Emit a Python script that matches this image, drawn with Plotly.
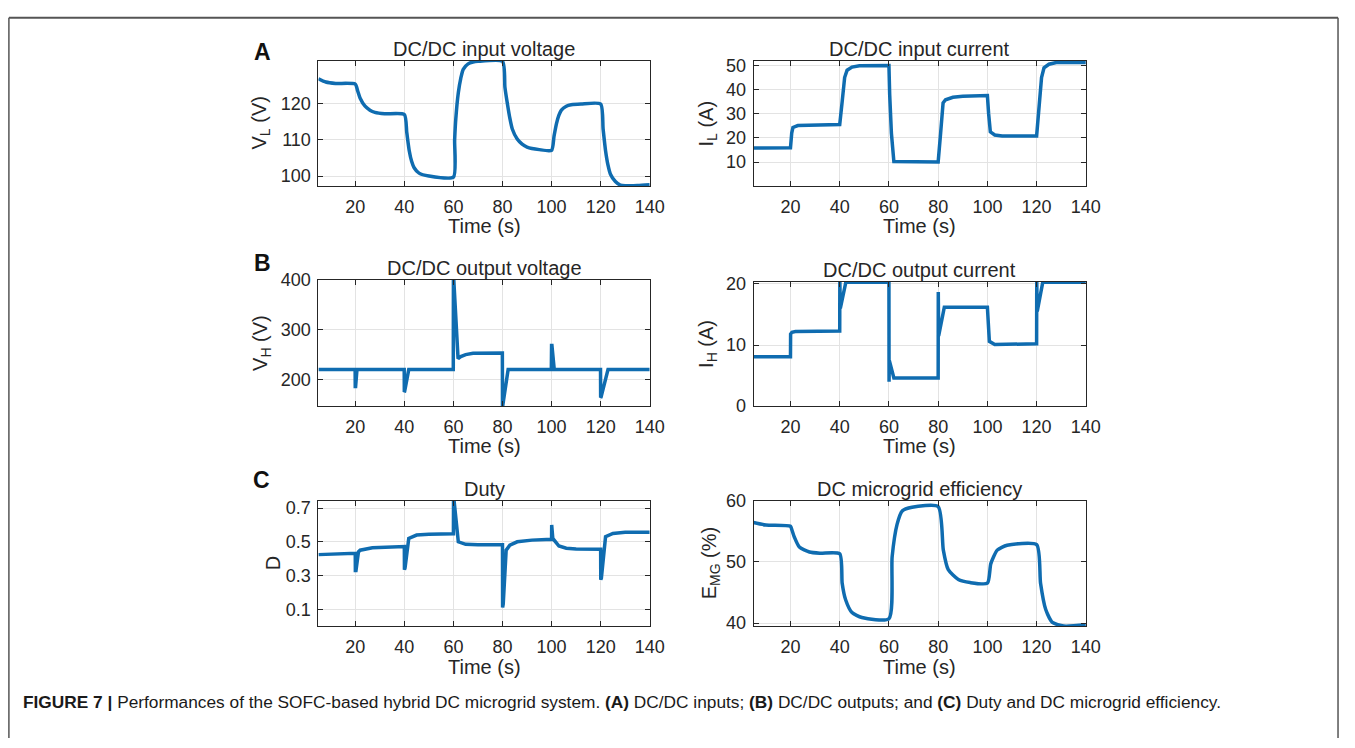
import plotly.graph_objects as go

# ---------------- data ----------------
x_ticks = [20, 40, 60, 80, 100, 120, 140]

t_vl = [5, 8, 12, 20, 21, 22, 24, 26, 28, 32, 40, 41, 42, 43, 44, 46, 50, 60,
        60.5, 61, 62, 63, 64, 66, 68, 70, 80, 81, 82, 83, 84, 86, 88, 90, 95, 100,
        101, 102, 103, 104, 106, 108, 112, 120, 121, 122, 123, 124, 126, 128, 130, 135, 140]
v_l = [126.9, 126.0, 125.6, 125.4, 123.5, 121.5, 119.3, 118.2, 117.6, 117.2, 117.0,
       112.0, 107.0, 104.0, 102.3, 100.8, 100.0, 99.7,
       110.0, 116.0, 123.0, 127.0, 129.5, 131.0, 131.5, 131.7, 131.7,
       124.5, 120.0, 116.0, 113.0, 110.2, 108.8, 108.0, 107.3, 107.1,
       111.0, 114.5, 116.8, 118.2, 119.3, 119.7, 119.9, 119.9,
       113.0, 107.0, 103.0, 100.5, 98.5, 97.5, 97.3, 97.4, 97.6]

t_il = [5, 20, 20.5, 21, 23, 30, 40, 41, 42, 43, 45, 48, 60, 60.3, 61, 62, 80, 81, 82,
        83, 86, 90, 100, 100.5, 101.2, 103, 106, 120, 121, 122, 123, 125, 128, 140]
i_l = [15.8, 15.9, 22.0, 24.3, 25.1, 25.4, 25.5, 35.0, 45.0, 48.0, 49.3, 49.9, 50.0,
       38.0, 22.0, 10.2, 10.0, 22.0, 34.5, 35.8, 36.8, 37.2, 37.5, 30.0, 22.5, 21.2,
       20.8, 20.8, 32.0, 45.0, 49.0, 50.5, 51.2, 51.2]

t_vh = [5, 19.95, 20, 20.15, 20.7, 39.95, 40, 40.1, 41.8, 59.95, 60, 60.15, 61.9, 63,
        65, 68, 79.95, 80, 80.1, 82.3, 99.9, 100, 100.15, 101.1, 119.95, 120, 120.15, 123, 140]
v_h = [220, 220, 186, 186, 220, 220, 175, 176, 220, 220, 400, 400, 242, 246,
       250, 252.5, 253, 147, 148, 220, 220, 268, 268, 220, 220, 164, 165, 220, 220]

t_ih = [5, 20, 20.05, 20.6, 22, 40, 40.05, 40.25, 42.5, 60, 60.05, 60.15, 62, 80,
        80.05, 80.2, 82.5, 100, 100.8, 103, 120, 120.05, 120.25, 122.5, 140]
i_h = [8.1, 8.1, 11.8, 12.1, 12.2, 12.3, 20.5, 16.0, 20.3, 20.3, 4.0, 7.5, 4.6, 4.6,
       18.7, 11.5, 16.2, 16.2, 10.6, 10.1, 10.2, 20.5, 15.5, 20.3, 20.3]

t_d = [5, 12, 20, 20.05, 20.3, 21.3, 22, 27, 40, 40.05, 40.3, 41.8, 45, 50, 60,
       60.05, 60.3, 62, 65, 70, 80, 80.05, 80.3, 81.5, 83, 86, 92, 100,
       100.05, 100.5, 101.5, 103, 106, 110, 120, 120.05, 120.3, 122, 125, 130, 140]
duty = [0.424, 0.43, 0.432, 0.33, 0.33, 0.44, 0.45, 0.465, 0.472, 0.335, 0.345,
        0.52, 0.54, 0.545, 0.548, 0.745, 0.74, 0.50, 0.485, 0.482, 0.482, 0.11, 0.13,
        0.45, 0.48, 0.50, 0.51, 0.515, 0.60, 0.52, 0.50, 0.475, 0.462, 0.458, 0.456,
        0.275, 0.285, 0.53, 0.55, 0.556, 0.557]

t_e = [5, 10, 20, 20.5, 21.6, 23.6, 27.7, 32, 40, 41, 42.4, 45, 49, 60, 61.3, 63.3,
       65.4, 69.4, 80, 82.1, 84.1, 88.2, 93, 100, 101.4, 104, 108, 120, 121.6, 123.7,
       126.4, 131, 140]
e_mg = [56.4, 56.0, 55.8, 55.3, 54.0, 52.4, 51.6, 51.4, 51.3, 46.5, 43.8, 41.7, 40.9,
        40.7, 50.8, 56.1, 58.3, 58.9, 59.0, 51.9, 48.7, 47.1, 46.6, 46.5, 49.7, 51.9,
        52.7, 52.8, 46.5, 42.2, 40.1, 39.5, 39.7]

titles = ["DC/DC input voltage", "DC/DC input current", "DC/DC output voltage",
          "DC/DC output current", "Duty", "DC microgrid efficiency"]
ylabels = ["V<sub>L</sub> (V)", "I<sub>L</sub> (A)", "V<sub>H</sub> (V)",
           "I<sub>H</sub> (A)", "D", "E<sub>MG</sub> (%)"]
y_ticks = [[100, 110, 120], [10, 20, 30, 40, 50], [200, 300, 400], [0, 10, 20],
           [0.1, 0.3, 0.5, 0.7], [40, 50, 60]]
y_ranges = [[97.2, 131.9], [0, 52], [147, 400], [0, 20.4], [0, 0.745], [39.5, 60]]
smooth = [True, False, False, False, False, True]
panel_letters = ["A", "B", "C"]
caption = ("<b>FIGURE 7 |</b> Performances of the SOFC-based hybrid DC microgrid system. "
           "<b>(A)</b> DC/DC inputs; <b>(B)</b> DC/DC outputs; and <b>(C)</b> Duty and DC "
           "microgrid efficiency.")

# ---------------- layout geometry (pixels) ----------------
W, H = 1355, 748
def px(x):
    return x / W
def py(y):
    return 1 - y / H

x_doms = [(322, 657), (762, 1098)]
y_doms = [[(52, 181), (52, 181)], [(277, 407), (279, 407)], [(504, 633), (504, 633)]]
time_label_y = [222, 448, 675]
ylab_x = [[263, 715], [265, 716], [276, 718]]
letter_pos = [(265, 43), (265, 260), (264, 483)]

LINE = "#0F6CB0"
AX = "#262626"
FONT = "Liberation Sans, Arial, sans-serif"

series = [(t_vl, v_l), (t_il, i_l), (t_vh, v_h), (t_ih, i_h), (t_d, duty), (t_e, e_mg)]

fig = go.Figure()
annotations = []
layout = {}
for k, (tx, ty) in enumerate(series):
    row, col = divmod(k, 2)
    n = k + 1
    xa = "x" if n == 1 else f"x{n}"
    ya = "y" if n == 1 else f"y{n}"
    line = dict(color=LINE, width=3.5)
    if smooth[k]:
        line.update(shape="spline", smoothing=0.6)
    fig.add_trace(go.Scatter(x=tx, y=ty, mode="lines", xaxis=xa, yaxis=ya,
                             line=line, showlegend=False, hoverinfo="skip"))
    x0, x1 = x_doms[col]
    yt, yb = y_doms[row][col]
    common = dict(showgrid=True, gridcolor="#e3e3e3", gridwidth=1, showline=True,
                  linecolor=AX, linewidth=1, mirror="ticks", ticks="inside", ticklen=5,
                  tickcolor=AX, tickfont=dict(family=FONT, size=18, color=AX),
                  zeroline=False, fixedrange=True)
    layout["xaxis" if n == 1 else f"xaxis{n}"] = dict(
        common, domain=[px(x0), px(x1)], range=[5, 140], tickvals=x_ticks,
        anchor=ya, ticklabelstandoff=4)
    layout["yaxis" if n == 1 else f"yaxis{n}"] = dict(
        common, domain=[py(yb), py(yt)], range=y_ranges[k], tickvals=y_ticks[k],
        anchor=xa, ticklabelstandoff=3)
    xc = px((x0 + x1) / 2)
    annotations.append(dict(text=titles[k], x=xc, y=py(yt), xref="paper", yref="paper",
                            xanchor="center", yanchor="bottom", showarrow=False,
                            font=dict(family=FONT, size=20, color=AX), yshift=-1))
    annotations.append(dict(text="Time (s)", x=xc, y=py(time_label_y[row]), xref="paper",
                            yref="paper", xanchor="center", yanchor="middle",
                            showarrow=False, font=dict(family=FONT, size=20, color=AX)))
    annotations.append(dict(text=ylabels[k], x=px(ylab_x[row][col]),
                            y=py((yt + yb) / 2), xref="paper", yref="paper",
                            xanchor="center", yanchor="middle", textangle=-90,
                            showarrow=False, font=dict(family=FONT, size=20, color=AX)))

for L, (lx, ly) in zip(panel_letters, letter_pos):
    annotations.append(dict(text=f"<b>{L}</b>", x=px(lx), y=py(ly), xref="paper",
                            yref="paper", xanchor="center", yanchor="middle",
                            showarrow=False, font=dict(family=FONT, size=23, color="#111")))

annotations.append(dict(text=caption, x=px(21), y=py(711), xref="paper", yref="paper",
                        xanchor="left", yanchor="middle", showarrow=False,
                        font=dict(family=FONT, size=17.3, color="#1a1a1a")))

shapes = [
    dict(type="line", xref="paper", yref="paper", x0=px(9), x1=px(1353), y0=py(8), y1=py(8),
         line=dict(color="#555555", width=2)),
    dict(type="line", xref="paper", yref="paper", x0=px(9), x1=px(9), y0=py(8), y1=0,
         line=dict(color="#555555", width=1.5)),
    dict(type="line", xref="paper", yref="paper", x0=px(1353), x1=px(1353), y0=py(8), y1=0,
         line=dict(color="#555555", width=1.5)),
]

fig.update_layout(width=W, height=H, margin=dict(l=0, r=0, t=0, b=0),
                  paper_bgcolor="white", plot_bgcolor="white",
                  annotations=annotations, shapes=shapes, **layout)
fig.write_html("out.html", config={"displayModeBar": False},
               post_script="document.body.style.margin='0';document.body.style.overflow='hidden';")
